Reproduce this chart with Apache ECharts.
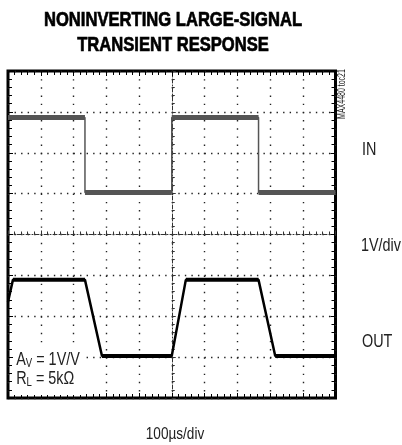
<!DOCTYPE html>
<html>
<head>
<meta charset="utf-8">
<script src="https://cdn.jsdelivr.net/npm/echarts@6/dist/echarts.min.js"></script>
<style>
  html, body { margin: 0; padding: 0; background: #fff; }
  #chart { width: 402px; height: 445px; }
</style>
</head>
<body>
<div id="chart"></div>
<script>
// time in µs from screen centre (trigger point), 100µs/div
const timeMin = -500, timeMax = 500, timeStep = 100;
// vertical scale, 1V/div, 0 at centre line
const voltMin = -4, voltMax = 4, voltStep = 1;

// IN trace
const inTime = [-500, -265, -265, 0, 0, 265, 265, 500];
const inVolt = [2.86, 2.86, 1.03, 1.03, 2.86, 2.86, 1.03, 1.03];

// OUT trace
const outTime = [-500, -485, -265, -213, 0, 43, 265, 316, 500];
const outVolt = [-1.65, -1.11, -1.11, -2.97, -2.97, -1.11, -1.11, -2.97, -2.97];

// no condensed font installed, so squeeze Liberation Sans with scaleX
const FONT = '"Liberation Sans", Arial, sans-serif';
const NARROW = 0.8;

const pts = (t, v) => t.map((x, i) => [x, v[i]]);
// only the flat parts, the scope draws them thicker than the edges
const flats = (t, v) => {
  const out = [];
  for (let i = 0; i < t.length - 1; i++) {
    if (v[i] === v[i + 1]) {
      out.push([t[i], v[i]], [t[i + 1], v[i + 1]], [t[i + 1], '-']);
    }
  }
  return out;
};

const tickStyle = { color: '#000', width: 1 };

const borderAxis = (pos, min, max, step) => ({
  type: 'value', position: pos, min: min, max: max, interval: step,
  axisLine: { show: false, onZero: false },
  axisTick: { show: true, inside: true, length: 5, lineStyle: tickStyle },
  minorTick: { show: true, splitNumber: 5, length: 4, lineStyle: tickStyle },
  axisLabel: { show: false },
  splitLine: { show: false }
});

const centreAxis = (min, max, step, dash) => ({
  type: 'value', min: min, max: max, interval: step,
  axisLine: { show: true, onZero: true, lineStyle: { color: '#333', width: 1, type: [4, 2, 1, 2] } },
  axisTick: { show: true, inside: true, length: 4, lineStyle: { color: '#333', width: 1 } },
  minorTick: { show: true, splitNumber: 5, length: 3, lineStyle: { color: '#333', width: 1 } },
  axisLabel: { show: false },
  splitLine: { show: true, lineStyle: { color: '#222', width: 1.4, type: dash } }
});

const label = (text, x, y, size, align, extra) => Object.assign({
  type: 'text', x: x, y: y, scaleX: NARROW,
  style: { text: text, fontFamily: FONT, fontSize: size, fill: '#222', align: align, verticalAlign: 'middle' }
}, extra || {});

const title = (text, y) => ({
  type: 'text', x: 173, y: y, scaleX: 0.79,
  style: {
    text: text, fontFamily: FONT, fontWeight: 'bold', fontSize: 21,
    fill: '#000', stroke: '#000', lineWidth: 0.7,
    align: 'center', verticalAlign: 'middle'
  }
});

const chart = echarts.init(document.getElementById('chart'), null, { renderer: 'canvas' });

chart.setOption({
  animation: false,
  grid: {
    left: 8, right: 66.5, top: 71, bottom: 47,
    show: true, borderColor: '#000', borderWidth: 3,
    outerBoundsMode: 'none'
  },
  xAxis: [
    centreAxis(timeMin, timeMax, timeStep, [1.4, 6.78]),
    borderAxis('top', timeMin, timeMax, timeStep),
    borderAxis('bottom', timeMin, timeMax, timeStep)
  ],
  yAxis: [
    centreAxis(voltMin, voltMax, voltStep, [1.4, 5.15]),
    borderAxis('left', voltMin, voltMax, voltStep),
    borderAxis('right', voltMin, voltMax, voltStep)
  ],
  series: [
    {
      name: 'IN', type: 'line', showSymbol: false, z: 3,
      lineStyle: { color: '#555', width: 1.5 },
      data: pts(inTime, inVolt)
    },
    {
      name: 'IN flat', type: 'line', showSymbol: false, z: 3,
      lineStyle: { color: '#555', width: 5, cap: 'butt' },
      data: flats(inTime, inVolt)
    },
    {
      name: 'OUT', type: 'line', showSymbol: false, z: 4,
      lineStyle: { color: '#000', width: 2.5 },
      data: pts(outTime, outVolt)
    },
    {
      name: 'OUT flat', type: 'line', showSymbol: false, z: 4,
      lineStyle: { color: '#000', width: 4, cap: 'butt' },
      data: flats(outTime, outVolt)
    }
  ],
  graphic: [
    title('NONINVERTING LARGE-SIGNAL', 20),
    title('TRANSIENT RESPONSE', 45),
    label('MAX4480 toc21', 342, 94, 10, 'center', { rotation: Math.PI / 2, scaleX: 0.7 }),
    label('IN', 362, 150, 18, 'left'),
    label('1V/div', 361, 246, 18, 'left'),
    label('OUT', 362, 342, 18, 'left'),
    label('100µs/div', 175, 434, 17, 'center'),
    {
      type: 'text', x: 13, y: 349, z: 10, scaleX: NARROW,
      style: {
        text: '{a|A}{s|V}{a| = 1V/V}\n{a|R}{s|L}{a| = 5kΩ}',
        backgroundColor: '#fff', padding: [2, 6, 6, 4],
        rich: {
          a: { fontFamily: FONT, fontSize: 18, lineHeight: 19, fill: '#222', verticalAlign: 'middle' },
          s: { fontFamily: FONT, fontSize: 12, lineHeight: 9, fill: '#222', verticalAlign: 'bottom' }
        }
      }
    }
  ]
});
</script>
</body>
</html>
